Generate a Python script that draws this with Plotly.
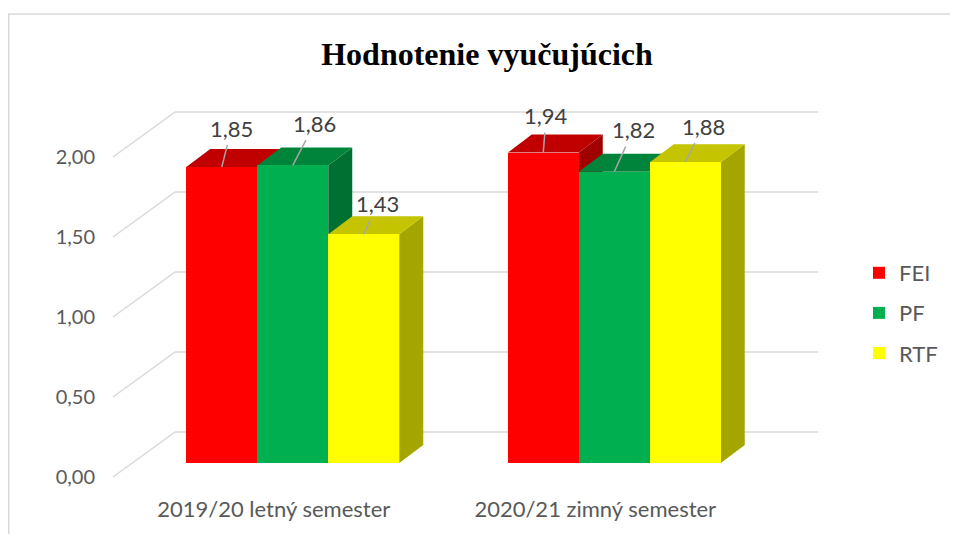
import plotly.graph_objects as go

# ---------------- data ----------------
categories = ["2019/20 letný semester", "2020/21 zimný semester"]
series_names = ["FEI", "PF", "RTF"]
fei_values = [1.85, 1.94]
pf_values = [1.86, 1.82]
rtf_values = [1.43, 1.88]
y_ticks = [0.0, 0.5, 1.0, 1.5, 2.0]
title_text = "Hodnotenie vyučujúcich"

series_values = [fei_values, pf_values, rtf_values]

# ---------------- styling / layout constants ----------------
OFF = 8                  # page body margin offset
W, H = 958, 534          # window size (reference pixel space)
FW, FH = W - OFF, H - OFF
PLOT_BOTTOM_PX = 490     # reference pixel row of the plot-area bottom
BASE_PX = 463            # reference pixel row of value 0 on the bar front plane
PX_PER_Y = 160.0
PX_PER_X = 321.5
BOX_LEFT_PX = 132        # reference pixel column of x = -0.5 on the bar front plane

def dxp(px):
    return px / PX_PER_X

def dyp(py):
    return py / PX_PER_Y

def paper_x(px):
    return (px - OFF) / FW

def paper_y(py):
    return 1 - (py - OFF) / (PLOT_BOTTOM_PX - OFF)

BW = dxp(71)
BAR_D = (dxp(24), dyp(18))
BACK_D = (dxp(43), dyp(31))
FRONT_D = (dxp(-19), dyp(-14))

front_colors = ["#FF0000", "#00B050", "#FFFF00"]
top_colors = ["#C00000", "#00843C", "#C4C400"]
side_colors = ["#A00000", "#006F32", "#A5A500"]
GRID = "#D9D9D9"
TXT = "#595959"
LBL = "#404040"
FONT = "Lato"

label_offsets = [  # (dx, dy) in pixels of data labels from bar top centre
    [(10, -39), (3, -37)],
    [(22, -42), (19, -42)],
    [(14, -31), (18, -36)],
]

x_min = -0.5 - dxp(BOX_LEFT_PX - OFF)
x_max = -0.5 + dxp(W - BOX_LEFT_PX)
y_min = (BASE_PX - PLOT_BOTTOM_PX) / PX_PER_Y
y_max = (BASE_PX - OFF) / PX_PER_Y

fig = go.Figure()
shapes = []

# 3D gridlines: side wall diagonals + back wall horizontals
n_cat = len(categories)
for v in y_ticks:
    fx, fy = -0.5 + FRONT_D[0], v + FRONT_D[1]
    bx, by = -0.5 + BACK_D[0], v + BACK_D[1]
    ex = (n_cat - 0.5) + BACK_D[0]
    shapes.append(dict(type="line", xref="x", yref="y", x0=fx, y0=fy, x1=bx, y1=by,
                       line=dict(color=GRID, width=1.5), layer="below"))
    shapes.append(dict(type="line", xref="x", yref="y", x0=bx, y0=by, x1=ex, y1=by,
                       line=dict(color=GRID, width=1.5), layer="below"))

n_ser = len(series_names)
# top and side faces, drawn left to right
for gi in range(n_cat):
    for si in range(n_ser):
        v = series_values[si][gi]
        xc = gi + (si - (n_ser - 1) / 2) * BW
        xl, xr = xc - BW / 2, xc + BW / 2
        ddx, ddy = BAR_D
        side = f"M {xr},0 L {xr},{v} L {xr+ddx},{v+ddy} L {xr+ddx},{ddy} Z"
        top = f"M {xl},{v} L {xr},{v} L {xr+ddx},{v+ddy} L {xl+ddx},{v+ddy} Z"
        shapes.append(dict(type="path", xref="x", yref="y", path=side,
                           fillcolor=side_colors[si], line=dict(width=0), layer="below"))
        shapes.append(dict(type="path", xref="x", yref="y", path=top,
                           fillcolor=top_colors[si], line=dict(width=0), layer="below"))

# front faces as real bars
for si in range(n_ser):
    xs = [gi + (si - (n_ser - 1) / 2) * BW for gi in range(n_cat)]
    fig.add_trace(go.Bar(
        x=xs, y=series_values[si], width=BW, name=series_names[si],
        marker=dict(color=front_colors[si], line=dict(width=0)),
        legendgroup=series_names[si], hoverinfo="skip",
    ))

annotations = []
for si in range(n_ser):
    for gi in range(n_cat):
        v = series_values[si][gi]
        xc = gi + (si - (n_ser - 1) / 2) * BW
        ox, oy = label_offsets[si][gi]
        annotations.append(dict(
            x=xc, y=v, xref="x", yref="y", text=f"{v:.2f}".replace(".", ","),
            showarrow=True, arrowhead=0, arrowwidth=1.5, arrowcolor="#A6A6A6",
            ax=ox, ay=oy, standoff=0, startstandoff=2,
            font=dict(family=FONT, size=22, color=LBL),
        ))

# chart border (top and left edges visible)
shapes.append(dict(type="line", xref="paper", yref="paper", x0=0, x1=1,
                   y0=paper_y(14), y1=paper_y(14), line=dict(color=GRID, width=1.5)))
shapes.append(dict(type="line", xref="paper", yref="paper", x0=0.75 / FW, x1=0.75 / FW,
                   y0=paper_y(14), y1=paper_y(H + 10), line=dict(color=GRID, width=1.5)))

fig.update_layout(
    width=FW, height=FH, autosize=False,
    margin=dict(l=0, r=0, t=0, b=H - PLOT_BOTTOM_PX),
    paper_bgcolor="white", plot_bgcolor="rgba(0,0,0,0)",
    barmode="overlay", bargap=0,
    shapes=shapes, annotations=annotations,
    title=dict(text=title_text, x=paper_x(487), xanchor="center",
               y=1 - (54 - OFF) / FH, yanchor="middle",
               font=dict(family="Liberation Serif", size=32, color="black", weight="bold")),
    xaxis=dict(range=[x_min, x_max], showgrid=False, zeroline=False, showline=False,
               tickmode="array", tickvals=[gi + FRONT_D[0] for gi in range(n_cat)],
               ticktext=categories, ticks="", ticklabelstandoff=4,
               tickfont=dict(family=FONT, size=22, color=TXT), fixedrange=True),
    yaxis=dict(range=[y_min, y_max], showgrid=False, zeroline=False, showline=False,
               anchor="free", position=paper_x(113), side="left",
               tickmode="array", tickvals=[v + FRONT_D[1] for v in y_ticks],
               ticktext=[f"{v:.2f}".replace(".", ",") for v in y_ticks], ticks="",
               ticklabelstandoff=18, tickfont=dict(family=FONT, size=20, color=TXT),
               fixedrange=True),
    legend=dict(x=paper_x(859), xanchor="left", y=paper_y(252), yanchor="top",
                font=dict(family=FONT, size=22, color=TXT), tracegroupgap=8.5,
                bgcolor="rgba(0,0,0,0)", borderwidth=0),
    showlegend=True,
)

fig.write_html("out.html")
